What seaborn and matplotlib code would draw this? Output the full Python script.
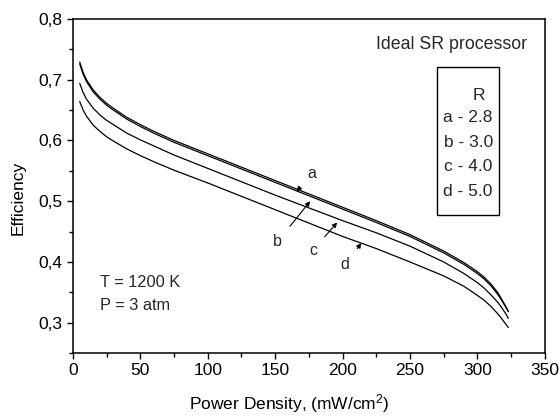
import matplotlib
matplotlib.use("Agg")
import matplotlib.pyplot as plt
import pandas as pd
import seaborn as sns
from matplotlib.patches import Rectangle
from matplotlib.ticker import FuncFormatter, MultipleLocator

# power density, mW/cm2
power = [5, 7.5, 10, 15, 20, 25, 30, 40, 50, 60, 75, 100, 125, 150, 175, 200,
         225, 250, 275, 290, 300, 305, 310, 315, 318, 321, 323]

# efficiency for each steam ratio R
eff_a = [0.729, 0.712, 0.700, 0.683, 0.671, 0.661, 0.653, 0.638, 0.626, 0.615, 0.600,
         0.578, 0.556, 0.534, 0.512, 0.490, 0.468, 0.445, 0.418, 0.399, 0.384,
         0.375, 0.364, 0.350, 0.339, 0.327, 0.318]
eff_b = [0.726, 0.709, 0.697, 0.680, 0.668, 0.658, 0.650, 0.635, 0.623, 0.612, 0.597,
         0.575, 0.553, 0.531, 0.509, 0.487, 0.465, 0.442, 0.415, 0.396, 0.381,
         0.372, 0.361, 0.347, 0.337, 0.326, 0.319]
eff_c = [0.694, 0.679, 0.668, 0.653, 0.642, 0.633, 0.626, 0.612, 0.601, 0.591, 0.576,
         0.554, 0.532, 0.510, 0.489, 0.468, 0.448, 0.426, 0.400, 0.381, 0.366,
         0.357, 0.346, 0.334, 0.325, 0.315, 0.307]
eff_d = [0.664, 0.650, 0.640, 0.625, 0.615, 0.606, 0.599, 0.586, 0.575, 0.565, 0.551,
         0.530, 0.508, 0.486, 0.464, 0.442, 0.422, 0.400, 0.377, 0.360, 0.345,
         0.337, 0.327, 0.315, 0.307, 0.298, 0.292]

curve_ids = ["a", "b", "c", "d"]
ratios = ["2.8", "3.0", "4.0", "5.0"]

# label text position, arrow tip
label_pos = {"a": (177, 0.546), "b": (152, 0.434), "c": (178, 0.419), "d": (202, 0.396)}
arrow_tip = {"a": (166, 0.516), "b": (176, 0.500), "c": (196, 0.465), "d": (214, 0.431)}

frames = []
for cid, eff in zip(curve_ids, [eff_a, eff_b, eff_c, eff_d]):
    frames.append(pd.DataFrame({"power": power, "eff": eff, "curve": cid}))
df = pd.concat(frames, ignore_index=True)

sns.set_theme(style="ticks")
plt.rcParams["font.family"] = ["Liberation Sans", "DejaVu Sans"]
plt.rcParams["mathtext.fontset"] = "custom"
plt.rcParams["mathtext.rm"] = "Liberation Sans"
plt.rcParams["mathtext.it"] = "Liberation Sans:italic"

fig = plt.figure(figsize=(5.59, 4.16), dpi=100)
ax = fig.add_axes([0.1306, 0.1514, 0.8438, 0.8029])

sns.lineplot(data=df, x="power", y="eff", hue="curve", units="curve", estimator=None,
             palette=["black"] * 4, linewidth=0.9, legend=False, ax=ax)

ax.set_xlim(0, 350)
ax.set_ylim(0.25, 0.8)
ax.xaxis.set_major_locator(MultipleLocator(50))
ax.xaxis.set_minor_locator(MultipleLocator(25))
ax.yaxis.set_major_locator(MultipleLocator(0.1))
ax.yaxis.set_minor_locator(MultipleLocator(0.05))
ax.yaxis.set_major_formatter(FuncFormatter(lambda v, p: f"{v:.1f}".replace(".", ",")))

for side in ["top", "right", "bottom", "left"]:
    ax.spines[side].set_color("black")
    ax.spines[side].set_linewidth(1.1)
ax.tick_params(which="major", direction="out", length=4.5, width=1, colors="black",
               labelsize=12.5, pad=3)
ax.tick_params(which="minor", direction="out", length=3, width=1, colors="black")

ax.set_xlabel(r"Power Density, (mW/cm$^2$)", fontsize=12.5, color="black")
ax.set_ylabel("Efficiency", fontsize=12.5, color="black")
ax.xaxis.set_label_coords(0.458, -0.118)
ax.yaxis.set_label_coords(-0.1, 0.464)

for cid in curve_ids:
    ax.annotate(cid, xy=arrow_tip[cid], xytext=label_pos[cid], fontsize=11.5,
                ha="center", va="center",
                arrowprops=dict(arrowstyle="-|>", color="black", lw=0.8,
                                shrinkA=5, shrinkB=0, mutation_scale=7))

ax.text(0.962, 0.925, "Ideal SR processor", transform=ax.transAxes,
        ha="right", va="center", fontsize=12.8)
ax.text(0.057, 0.210, "T = 1200 K", transform=ax.transAxes, ha="left", va="center", fontsize=11.8)
ax.text(0.057, 0.141, "P = 3 atm", transform=ax.transAxes, ha="left", va="center", fontsize=11.8)

ax.add_patch(Rectangle((0.771, 0.413), 0.132, 0.443, transform=ax.transAxes,
                       fill=False, edgecolor="black", linewidth=1))
ax.text(0.860, 0.772, "R", transform=ax.transAxes, ha="center", va="center", fontsize=12.5)
rows_y = [0.704, 0.629, 0.557, 0.485]
for cid, r, yy in zip(curve_ids, ratios, rows_y):
    ax.text(0.890, yy, f"{cid} - {r}", transform=ax.transAxes,
            ha="right", va="center", fontsize=12.5)

fig.savefig("out.png", dpi=100)
